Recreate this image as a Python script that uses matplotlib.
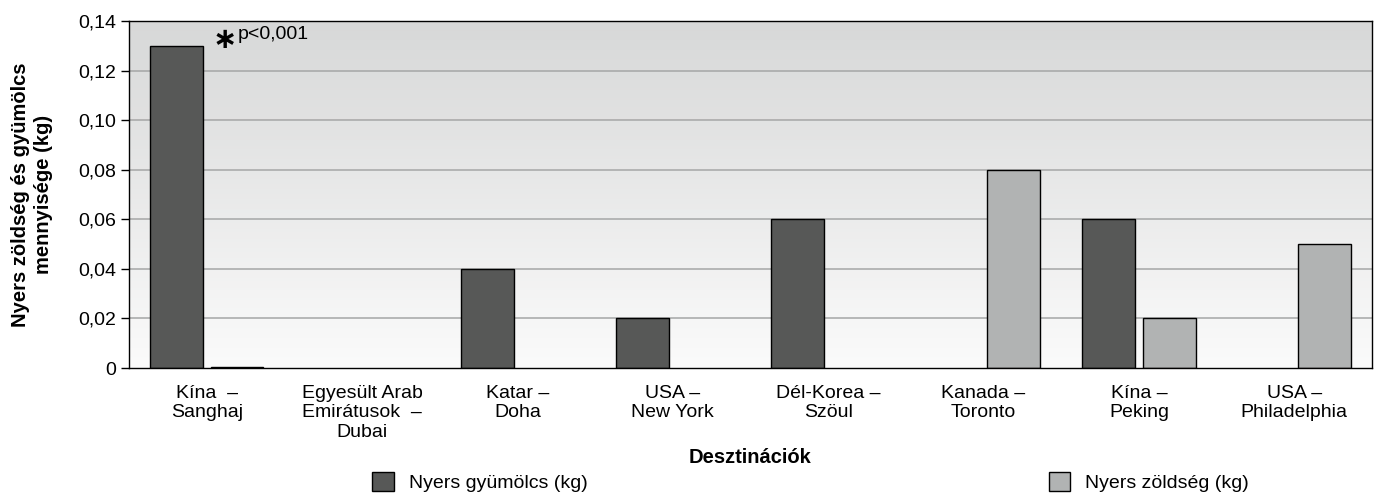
import numpy as np
import matplotlib.pyplot as plt
from matplotlib.patches import Patch
from matplotlib.colors import LinearSegmentedColormap

plt.rcParams['font.family'] = ['Liberation Sans', 'DejaVu Sans']

# ---- adatok ----
destinations = ['Kína  –\nSanghaj', 'Egyesült Arab\nEmirátusok  –\nDubai', 'Katar –\nDoha',
                'USA –\nNew York', 'Dél-Korea –\nSzöul', 'Kanada –\nToronto', 'Kína –\nPeking',
                'USA –\nPhiladelphia']
fruit = [0.13, 0, 0.04, 0.02, 0.06, 0, 0.06, 0]
veg = [0.0003, 0, 0, 0, 0, 0.08, 0.02, 0.05]
yticks = [0, 0.02, 0.04, 0.06, 0.08, 0.10, 0.12, 0.14]
ytick_labels = ['0', '0,02', '0,04', '0,06', '0,08', '0,10', '0,12', '0,14']

dark = '#575857'
light = '#b1b3b3'

fig = plt.figure(figsize=(13.8, 4.94), dpi=100)
ax = fig.add_axes([129/1380, 1 - 368/494, (1372-129)/1380, (368-21)/494])

x = np.arange(len(destinations))
w = 0.34
ax.set_xlim(-0.5, len(destinations) - 0.5)
ax.set_ylim(0, 0.14)

# háttér színátmenet
grad = np.linspace(0, 1, 256).reshape(-1, 1)
cmap = LinearSegmentedColormap.from_list('bg', ['#fbfbfb', '#d7d8d8'])
ax.imshow(grad, cmap=cmap, aspect='auto', origin='lower',
          extent=[-0.5, len(destinations) - 0.5, 0, 0.14], zorder=0)

for yv in yticks[1:-1]:
    ax.axhline(yv, color='#a5a6a6', lw=1.1, zorder=1)

# csak a nem nulla oszlopok
for xi, f, v in zip(x, fruit, veg):
    if f > 0:
        ax.bar(xi - 0.195, f, w, color=dark, edgecolor='black', lw=1, zorder=2)
    if v > 0:
        ax.bar(xi + 0.195, v, w, color=light, edgecolor='black', lw=1, zorder=2)

ax.set_yticks(yticks)
ax.set_yticklabels(ytick_labels, fontsize=14)
ax.set_xticks(x)
ax.set_xticklabels(destinations, fontsize=14, linespacing=1.2)
ax.tick_params(axis='x', length=0, pad=12)
ax.tick_params(axis='y', length=6, width=1, pad=3)
for s in ax.spines.values():
    s.set_color('black')
    s.set_linewidth(1)

ax.set_ylabel('Nyers zöldség és gyümölcs\nmennyisége (kg)', fontsize=14.5, fontweight='bold',
              linespacing=1.25)
ax.yaxis.set_label_coords(-76/1243, 0.5)
ax.set_xlabel('Desztinációk', fontsize=14.5, fontweight='bold')
ax.xaxis.set_label_coords(0.5, -80/347)

ax.text(0.035, 0.1325, '∗', fontsize=21, fontweight='bold', ha='left', va='center',
        family='DejaVu Sans')
ax.text(0.2, 0.1347, 'p<0,001', fontsize=14, ha='left', va='center')

fig.legend(handles=[Patch(facecolor=dark, edgecolor='black', label='Nyers gyümölcs (kg)')],
           loc='center left', bbox_to_anchor=(355/1380, 1 - 482/494), frameon=False,
           fontsize=14, handlelength=1.1, handleheight=1.1, handletextpad=0.8)
fig.legend(handles=[Patch(facecolor=light, edgecolor='black', label='Nyers zöldség (kg)')],
           loc='center left', bbox_to_anchor=(1031/1380, 1 - 482/494), frameon=False,
           fontsize=14, handlelength=1.1, handleheight=1.1, handletextpad=0.8)

fig.savefig('out.png', dpi=100)
